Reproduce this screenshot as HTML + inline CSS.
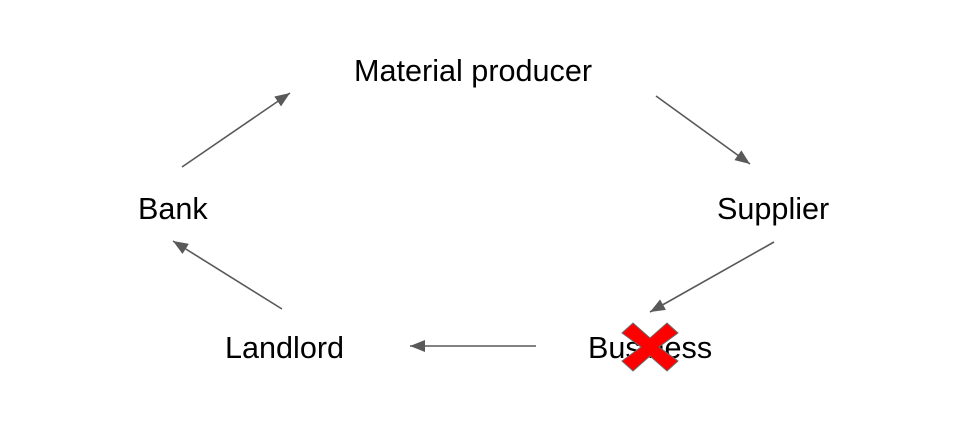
<!DOCTYPE html>
<html>
<head>
<meta charset="utf-8">
<style>
  html, body { margin: 0; padding: 0; background: #ffffff; }
  svg { display: block; }
  text { font-family: "Liberation Sans", Arial, sans-serif; font-size: 30.6px; fill: #000000; }
</style>
</head>
<body>
<svg width="956" height="434" viewBox="0 0 956 434" xmlns="http://www.w3.org/2000/svg">
  <defs>
    <marker id="ah" markerWidth="16" markerHeight="12" refX="15" refY="6" orient="auto" markerUnits="userSpaceOnUse">
      <path d="M0,0 L15,6 L0,12 Z" fill="#595959"/>
    </marker>
  </defs>
  <rect width="956" height="434" fill="#ffffff"/>

  <!-- Labels -->
  <text x="354" y="81">Material producer</text>
  <text x="138" y="219">Bank</text>
  <text x="717" y="219">Supplier</text>
  <text x="225" y="358">Landlord</text>
  <text x="588" y="358">Business</text>

  <!-- Connectors -->
  <g stroke="#595959" stroke-width="1.6" fill="none">
    <line x1="182" y1="167" x2="290" y2="93" marker-end="url(#ah)"/>
    <line x1="656" y1="96" x2="750" y2="164" marker-end="url(#ah)"/>
    <line x1="774" y1="242" x2="650" y2="312" marker-end="url(#ah)"/>
    <line x1="536" y1="346" x2="410" y2="346" marker-end="url(#ah)"/>
    <line x1="282" y1="309" x2="173" y2="241" marker-end="url(#ah)"/>
  </g>

  <!-- Red X -->
  <polygon points="633,323 650,338 667,323 678,333 659,347 678,361 667,371 650,356 633,371 622,361 641,347 622,333"
           fill="#ff0000" stroke="#6b6b6b" stroke-width="1"/>
</svg>
</body>
</html>
